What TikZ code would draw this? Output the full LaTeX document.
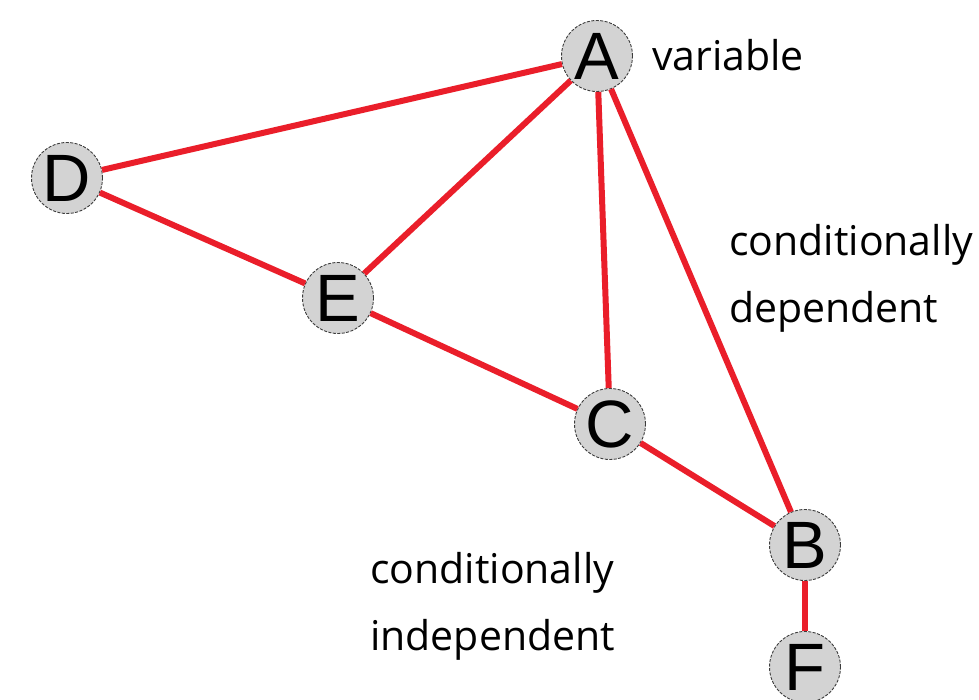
\documentclass[tikz,border=0pt]{standalone}
\usepackage{fontspec}
\setmainfont{Open Sans}
\newfontfamily\letterfont{Liberation Sans}
\definecolor{edgered}{RGB}{234,30,42}
\definecolor{nodegray}{RGB}{211,211,211}
\definecolor{bordergray}{RGB}{60,60,60}
\begin{document}
\begin{tikzpicture}[x=1pt,y=-1pt,
  vnode/.style={circle,fill=nodegray,draw=bordergray,line width=0.9pt,dash pattern=on 3pt off 1.5pt,
    minimum size=71pt,inner sep=0pt,font=\letterfont\fontsize{67}{67}\selectfont},
  edge/.style={draw=edgered,line width=6pt},
  lbl/.style={anchor=base west,inner sep=0pt,font=\fontsize{41}{41}\selectfont,text=black}]
\clip (0,0) rectangle (979,699);
\fill[white] (0,0) rectangle (979,699);
\node[vnode] (A) at (597,56) {A};
\node[vnode] (D) at (67,178) {D};
\node[vnode] (E) at (338,298) {E};
\node[vnode] (C) at (610,424) {C};
\node[vnode] (B) at (805,545) {B};
\node[vnode] (F) at (805,667) {F};
\path[edge] (A) -- (D);
\path[edge] (A) -- (E);
\path[edge] (A) -- (C);
\path[edge] (A) -- (B);
\path[edge] (D) -- (E);
\path[edge] (E) -- (C);
\path[edge] (C) -- (B);
\path[edge] (B) -- (F);
\node[lbl] (var) at (652,70) {variable};
\node[lbl] (cd1) at (729,255) {conditionally};
\node[lbl] (cd2) at (729,322) {dependent};
\node[lbl] (ci1) at (370,583) {conditionally};
\node[lbl] (ci2) at (370,650) {independent};
\end{tikzpicture}
\end{document}
